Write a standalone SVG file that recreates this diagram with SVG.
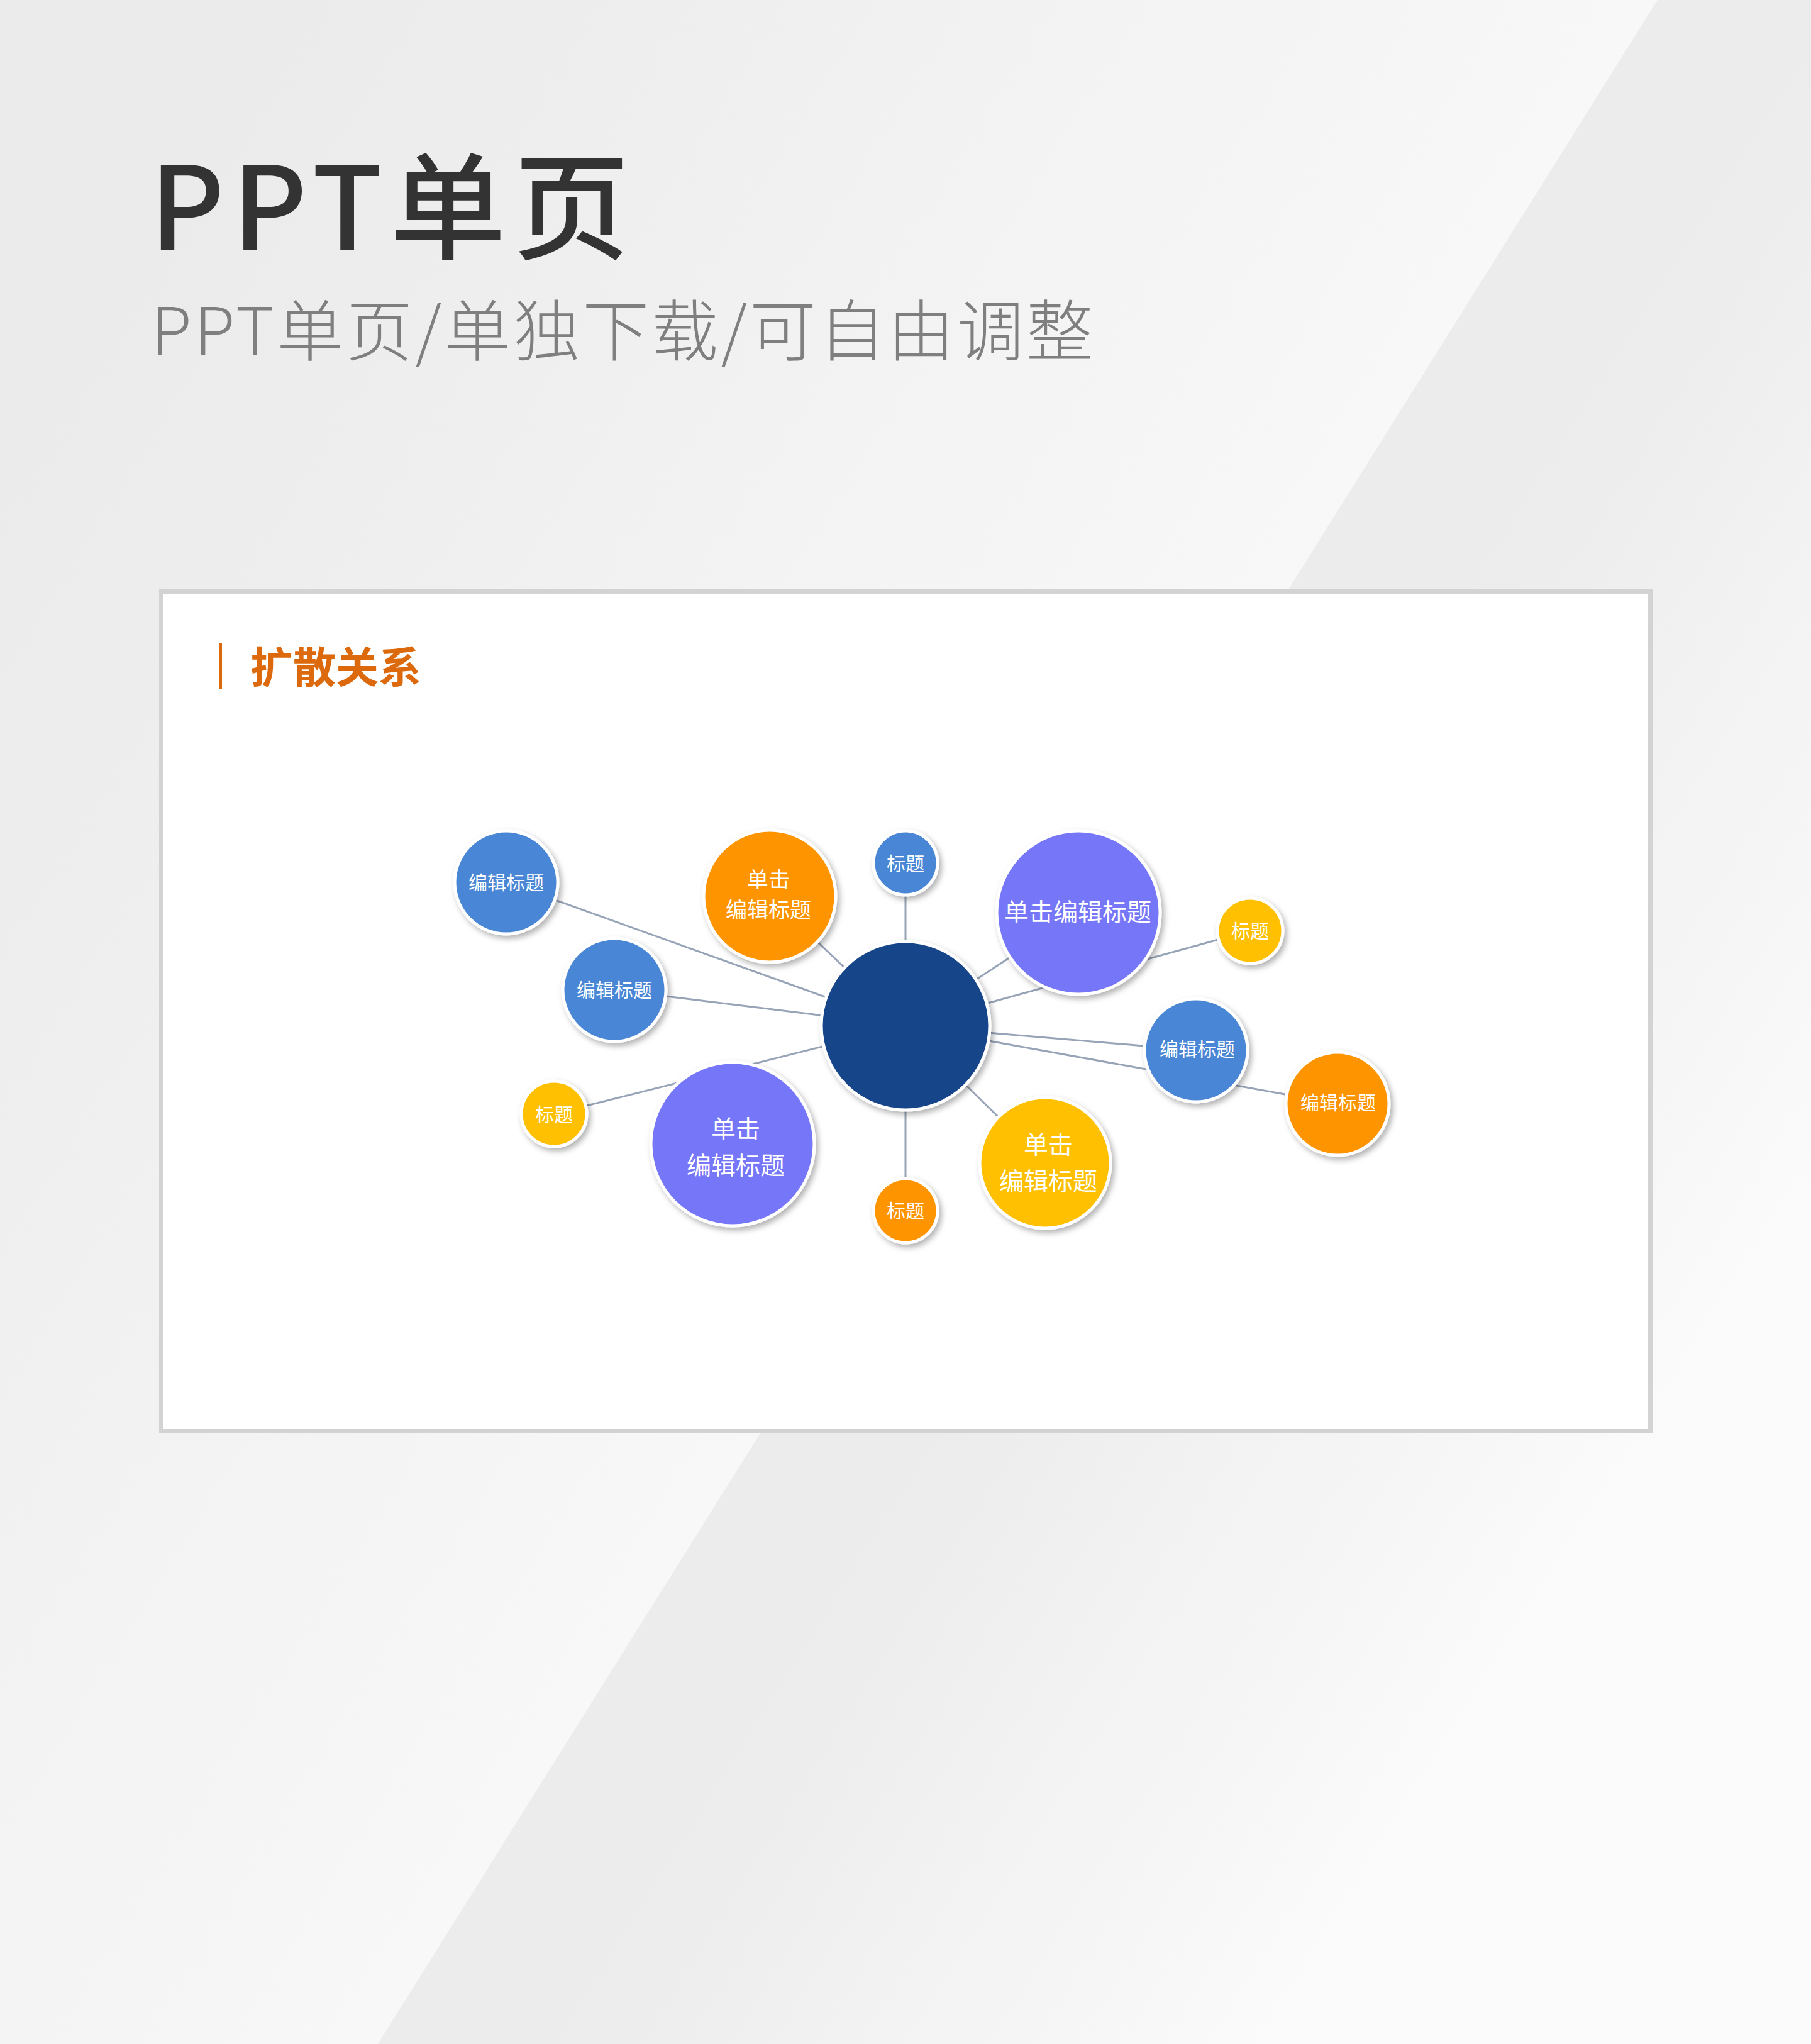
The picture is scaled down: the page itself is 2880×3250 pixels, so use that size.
<svg xmlns="http://www.w3.org/2000/svg" width="2880" height="3250" viewBox="0 0 2880 3250">
  <defs>
    <linearGradient id="bgA" gradientUnits="userSpaceOnUse" x1="0" y1="800" x2="1534" y2="1760">
      <stop offset="0" stop-color="#ebebeb"/>
      <stop offset="1" stop-color="#f8f8f8"/>
    </linearGradient>
    <linearGradient id="bgB" gradientUnits="userSpaceOnUse" x1="1600" y1="2100" x2="2450" y2="2635">
      <stop offset="0" stop-color="#ececec"/>
      <stop offset="1" stop-color="#fbfbfb"/>
    </linearGradient>
    <filter id="sh" x="-20%" y="-20%" width="150%" height="150%">
      <feDropShadow dx="4" dy="5" stdDeviation="5" flood-color="#000" flood-opacity="0.3"/>
    </filter>
    <style>
      .node circle { stroke: #ffffff; stroke-width: 5; filter: url(#sh); }
      .blue { fill: #4a86d5; }
      .orange { fill: #fe9500; }
      .yellow { fill: #fec000; }
      .purple { fill: #7676f9; }
      .navy { fill: #17448a; }
      .lbl { fill: #ffffff; font-family: "Noto Sans CJK SC", "Noto Sans", sans-serif; text-anchor: middle; dominant-baseline: central; }
      .s { font-size: 30px; }
      .m { font-size: 34px; }
      .l { font-size: 39px; }
      #connectors line { stroke: #97a3b6; stroke-width: 3; }
    </style>
  </defs>

  <!-- background -->
  <rect x="0" y="0" width="2880" height="3250" fill="#f0f0f0"/>
  <polygon points="0,0 2636,0 601,3250 0,3250" fill="url(#bgA)"/>
  <polygon points="2636,0 2880,0 2880,3250 601,3250" fill="url(#bgB)"/>

  <!-- titles -->
  <text x="238" y="398" font-family="Noto Sans CJK SC, Noto Sans, sans-serif" font-size="184" font-weight="500" letter-spacing="12" fill="#333333">PPT单页</text>
  <text x="240" y="565" font-family="Noto Sans CJK SC, Noto Sans, sans-serif" font-size="106" font-weight="300" letter-spacing="4" fill="#7f7f7f">PPT单页/单独下载/可自由调整</text>

  <!-- card -->
  <rect x="256.5" y="940.5" width="2368" height="1335" fill="#ffffff" stroke="#d3d3d3" stroke-width="7"/>
  <rect x="348" y="1022" width="5" height="74" fill="#dc6a0c"/>
  <text x="398" y="1086" font-family="Liberation Serif, Noto Sans CJK SC, serif" font-size="68" font-weight="bold" fill="#dc6a0c">扩散关系</text>

  <!-- connectors -->
  <g id="connectors">
    <line x1="805" y1="1403" x2="1440" y2="1631"/>
    <line x1="1224" y1="1425" x2="1440" y2="1631"/>
    <line x1="1440" y1="1372" x2="1440" y2="1631"/>
    <line x1="1715" y1="1451" x2="1440" y2="1631"/>
    <line x1="1988" y1="1480" x2="1440" y2="1631"/>
    <line x1="1902" y1="1670" x2="1440" y2="1631"/>
    <line x1="2127" y1="1755" x2="1440" y2="1631"/>
    <line x1="1662" y1="1849" x2="1440" y2="1631"/>
    <line x1="1440" y1="1925" x2="1440" y2="1631"/>
    <line x1="881" y1="1771" x2="1440" y2="1631"/>
    <line x1="977" y1="1574" x2="1440" y2="1631"/>
  </g>

  <!-- nodes -->
  <g id="node-center" class="node">
    <circle class="navy" cx="1440" cy="1631" r="134"/>
  </g>
  <g id="node-tl-blue" class="node">
    <circle class="blue" cx="805" cy="1403" r="82"/>
    <text class="lbl s" x="805" y="1401">编辑标题</text>
  </g>
  <g id="node-tl-orange" class="node">
    <circle class="orange" cx="1224" cy="1425" r="105"/>
    <text class="lbl m" x="1222" y="1396">单击</text>
    <text class="lbl m" x="1222" y="1444">编辑标题</text>
  </g>
  <g id="node-top-blue" class="node">
    <circle class="blue" cx="1440" cy="1372" r="51"/>
    <text class="lbl s" x="1440" y="1371">标题</text>
  </g>
  <g id="node-tr-purple" class="node">
    <circle class="purple" cx="1715" cy="1451" r="130"/>
    <text class="lbl l" x="1714" y="1447">单击编辑标题</text>
  </g>
  <g id="node-r-yellow" class="node">
    <circle class="yellow" cx="1988" cy="1480" r="52"/>
    <text class="lbl s" x="1988" y="1478">标题</text>
  </g>
  <g id="node-r-blue" class="node">
    <circle class="blue" cx="1902" cy="1670" r="82"/>
    <text class="lbl s" x="1904" y="1666">编辑标题</text>
  </g>
  <g id="node-fr-orange" class="node">
    <circle class="orange" cx="2127" cy="1755" r="82"/>
    <text class="lbl s" x="2128" y="1751">编辑标题</text>
  </g>
  <g id="node-b-yellow" class="node">
    <circle class="yellow" cx="1662" cy="1849" r="104"/>
    <text class="lbl l" x="1667" y="1817">单击</text>
    <text class="lbl l" x="1667" y="1875">编辑标题</text>
  </g>
  <g id="node-b-orange" class="node">
    <circle class="orange" cx="1440" cy="1925" r="51"/>
    <text class="lbl s" x="1440" y="1923">标题</text>
  </g>
  <g id="node-bl-purple" class="node">
    <circle class="purple" cx="1165" cy="1819" r="130"/>
    <text class="lbl l" x="1170" y="1792">单击</text>
    <text class="lbl l" x="1170" y="1850">编辑标题</text>
  </g>
  <g id="node-l-yellow" class="node">
    <circle class="yellow" cx="881" cy="1771" r="52"/>
    <text class="lbl s" x="881" y="1770">标题</text>
  </g>
  <g id="node-l-blue" class="node">
    <circle class="blue" cx="977" cy="1574" r="82"/>
    <text class="lbl s" x="977" y="1572">编辑标题</text>
  </g>
</svg>
